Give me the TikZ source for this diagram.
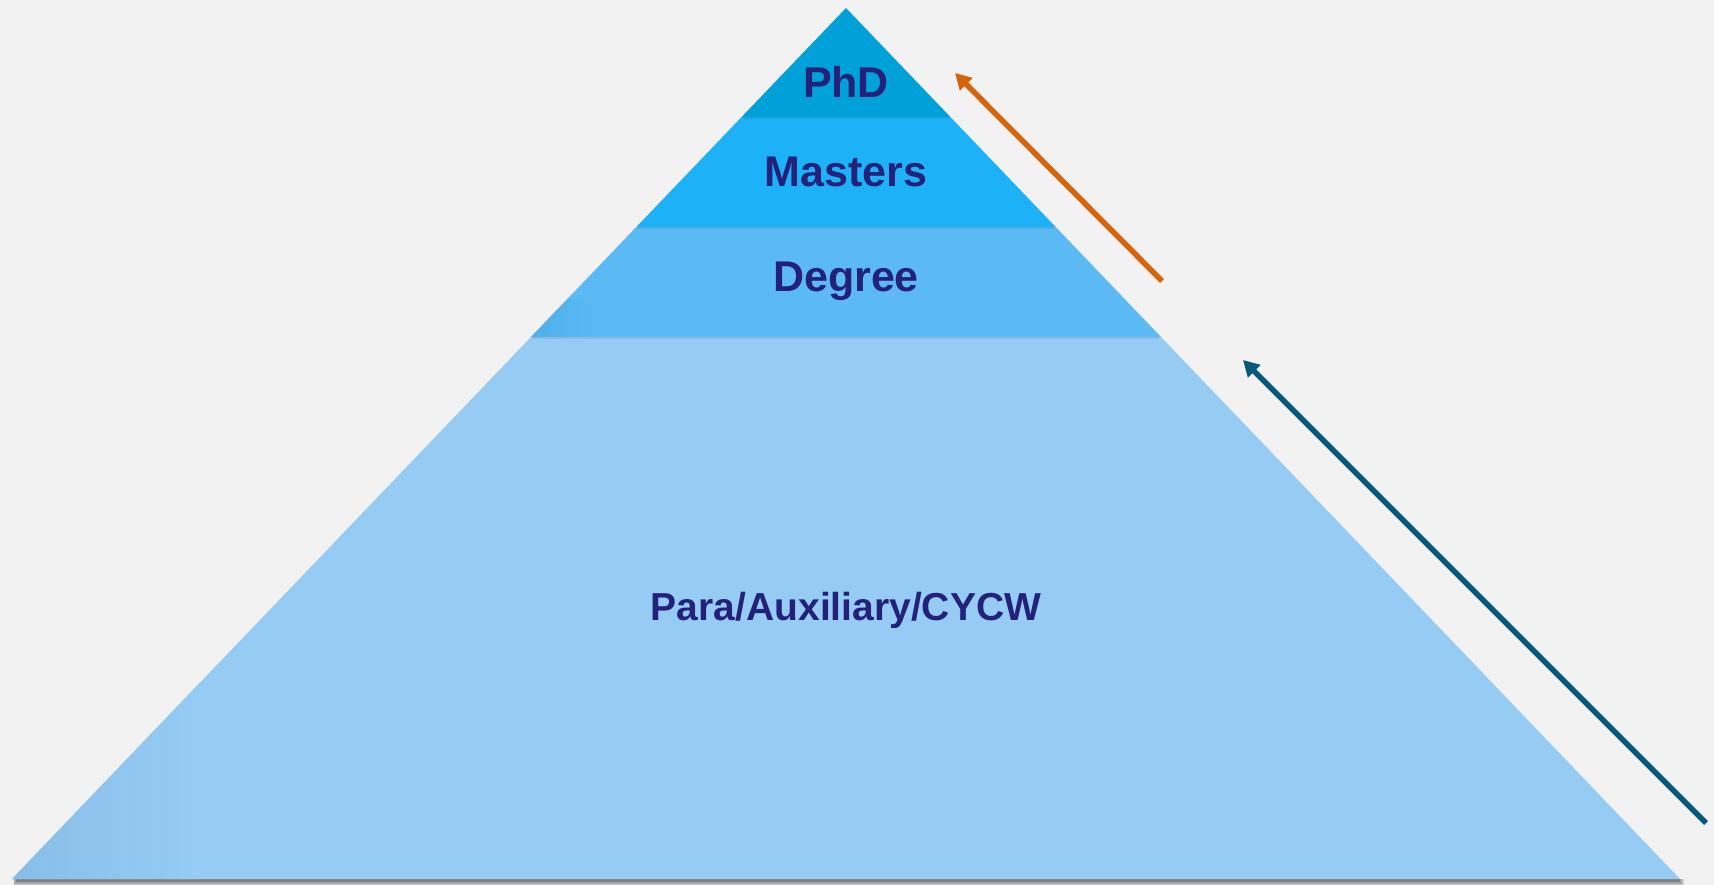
\documentclass[tikz,border=0pt]{standalone}
\usepackage{fontspec}
\setmainfont{Liberation Sans}
\usetikzlibrary{arrows.meta}
\definecolor{bg}{HTML}{F2F2F2}
\definecolor{phdc}{HTML}{00A0D9}
\definecolor{mastc}{HTML}{1DB2F7}
\definecolor{degc}{HTML}{5BBAF4}
\definecolor{degdark}{HTML}{4DAEE6}
\definecolor{basec}{HTML}{96CBF4}
\definecolor{basedark}{HTML}{86BDE6}
\definecolor{txtc}{HTML}{23217A}
\definecolor{orangec}{HTML}{D5640C}
\definecolor{tealc}{HTML}{07597A}
\tikzset{
  lbl/.style={text=txtc, font=\fontsize{43}{43}\selectfont\bfseries, inner sep=0pt},
  lblsmall/.style={text=txtc, font=\fontsize{39}{39}\selectfont\bfseries, inner sep=0pt},
  arr/.style={line width=5.5pt, -{Triangle[length=16pt,width=17pt]}},
  seam/.style={fill=black, opacity=0.08},
}
\begin{document}
\begin{tikzpicture}[x=1pt,y=-1pt]
\fill[bg] (0,0) rectangle (1714,885);
\useasboundingbox (0,0) rectangle (1714,885);
% shadow under base
\fill[black!20] (14,879) rectangle (1684,886);
\fill[black!35] (14,879) rectangle (1682,884);
\fill[black!50] (16,879) rectangle (1680,882);
% base band
\coordinate (apex) at (846,8);
\fill[basec] (12,879) -- (531,337) -- (1161,337) -- (1680,879) -- cycle;
\begin{scope}
\clip (12,879) -- (531,337) -- (1161,337) -- (1680,879) -- cycle;
\shade[left color=basedark, right color=basec] (0,600) rectangle (200,885);
\end{scope}
% degree band
\fill[degc] (531,337) -- (636.3,227) -- (1055.7,227) -- (1161,337) -- cycle;
\begin{scope}
\clip (531,337) -- (636.3,227) -- (1055.7,227) -- (1161,337) -- cycle;
\shade[left color=degdark, right color=degc] (525,300) rectangle (600,340);
\end{scope}
\fill[seam] (533,337) rectangle (1159,339);
% masters band
\fill[mastc] (636.3,227) -- (741.6,117) -- (950.4,117) -- (1055.7,227) -- cycle;
\fill[seam] (638,227) rectangle (1054,229);
% phd band
\fill[phdc] (741.6,117) -- (apex) -- (950.4,117) -- cycle;
\fill[seam] (743,117) rectangle (949,119);
% labels
\node[lbl] (phd) at (846,82) {PhD};
\node[lbl] (mast) at (846,172) {Masters};
\node[lbl] (deg) at (846,281) {Degree};
\node[lblsmall] (para) at (846,610) {Para/Auxiliary/CYCW};
% arrows
\coordinate (o1) at (1162,281);
\coordinate (o2) at (955,73);
\coordinate (t1) at (1706,823);
\coordinate (t2) at (1243,360);
\draw[arr, orangec] (o1) -- (o2);
\draw[arr, tealc] (t1) -- (t2);
\end{tikzpicture}
\end{document}
